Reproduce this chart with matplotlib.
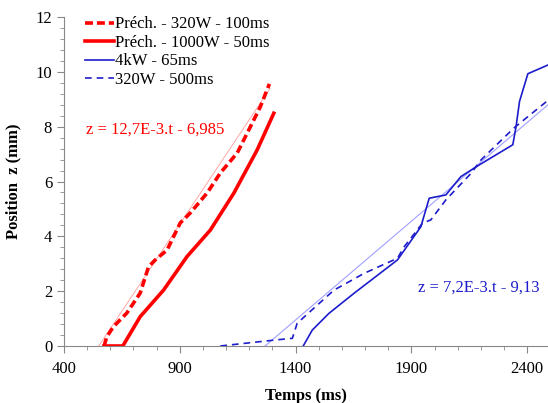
import matplotlib
matplotlib.use("Agg")
import matplotlib.pyplot as plt
import numpy as np
from matplotlib.ticker import MultipleLocator

plt.rcParams['font.family'] = ['Liberation Serif', 'DejaVu Serif']

# Data
t_pre320 = [573, 585, 613, 671, 729, 765, 794, 845, 902, 945, 1018, 1075, 1148, 1205, 1248, 1287]
z_pre320 = [0, 0.34, 0.70, 1.20, 1.93, 2.89, 3.14, 3.50, 4.49, 4.85, 5.58, 6.31, 7.04, 8.00, 8.73, 9.56]

t_pre1000 = [573, 654, 729, 830, 931, 1032, 1133, 1234, 1306]
z_pre1000 = [0, 0, 1.07, 2.04, 3.26, 4.23, 5.57, 7.15, 8.49]

t_4kw = [1433, 1472, 1544, 1652, 1840, 1941, 1977, 2049, 2114, 2194, 2338, 2352, 2367, 2403, 2490]
z_4kw = [0, 0.58, 1.19, 1.92, 3.14, 4.35, 5.39, 5.51, 6.18, 6.61, 7.34, 8.00, 8.92, 9.93, 10.25]

t_320 = [1075, 1313, 1386, 1407, 1479, 1566, 1696, 1840, 1869, 1948, 1984, 2049, 2158, 2201, 2344, 2490]
z_320 = [0, 0.22, 0.28, 0.83, 1.38, 2.04, 2.65, 3.20, 3.62, 4.48, 4.60, 5.33, 6.30, 6.79, 7.96, 8.96]

fit_red = (12.7e-3, -6.985)
fit_red_t = [550, 1290]
fit_blue = (7.2e-3, -9.13)
fit_blue_t = [1268, 2490]

xticks = [400, 900, 1400, 1900, 2400]
labels = ["Préch. - 320W - 100ms", "Préch. - 1000W - 50ms", "4kW - 65ms", "320W - 500ms"]

fig = plt.figure(figsize=(5.48, 4.03), dpi=100)
ax = fig.add_axes([64/548, 1-346/403, 1-64/548, (346-17)/403])

red = '#ff0000'
blue = '#1c1ccc'

ft = np.array(fit_red_t)
ax.plot(ft, fit_red[0]*ft + fit_red[1], color='#ff9a9a', lw=0.6, zorder=1)
fb = np.array(fit_blue_t)
ax.plot(fb, fit_blue[0]*fb + fit_blue[1], color='#a0a0ff', lw=0.8, zorder=1)

ax.plot(t_pre320, z_pre320, color=red, lw=2.6, ls=(0, (2.2, 1.1)), label=labels[0], zorder=3)
ax.plot(t_pre1000, z_pre1000, color=red, lw=2.6, label=labels[1], zorder=3)
ax.plot(t_4kw, z_4kw, color=blue, lw=1.2, label=labels[2], zorder=3)
ax.plot(t_320, z_320, color=blue, lw=1.2, ls=(0, (4, 3)), label=labels[3], zorder=3)

ax.set_xlim(400, 2490)
ax.set_ylim(0, 12)
ax.set_xticks(xticks)
ax.xaxis.set_minor_locator(MultipleLocator(100))
ax.yaxis.set_major_locator(MultipleLocator(2))
ax.yaxis.set_minor_locator(MultipleLocator(0.4))
for s in ['top', 'right']:
    ax.spines[s].set_visible(False)
for s in ['left', 'bottom']:
    ax.spines[s].set_color('#888888')
ax.tick_params(which='major', length=5, color='#888888', labelsize=12, direction='out')
ax.tick_params(which='minor', length=3, color='#888888', direction='out')
ax.tick_params(axis='x', pad=6)

ax.set_xlabel("Temps (ms)", fontsize=12, fontweight='bold', labelpad=8)
ax.set_ylabel("Position  z (mm)", fontsize=12, fontweight='bold', labelpad=10)

ax.text(495, 7.88, "z = 12,7E-3.t - 6,985", color=red, fontsize=12, va='center', ha='left')
ax.text(1928, 2.12, "z = 7,2E-3.t - 9,13", color=blue, fontsize=12, va='center', ha='left')

leg = ax.legend(loc='upper left', bbox_to_anchor=(0.03, 1.022), frameon=False, fontsize=12,
                handlelength=1.7, handletextpad=0.1, labelspacing=0.15, borderaxespad=0)

fig.savefig("out.png", dpi=100)
